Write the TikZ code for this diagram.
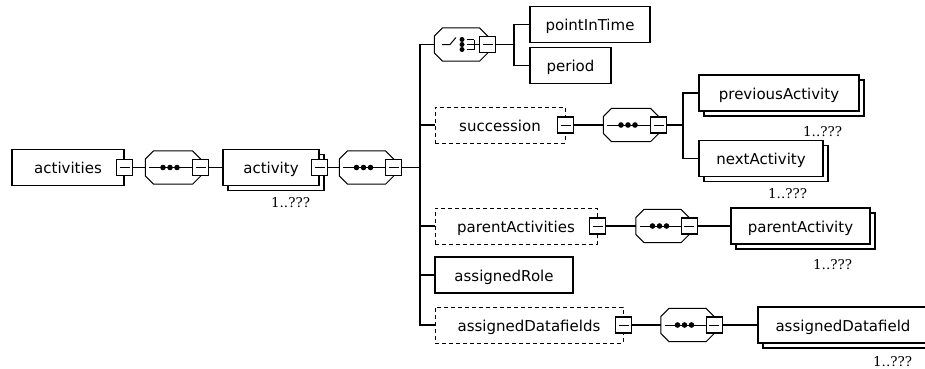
\documentclass[tikz,border=0pt]{standalone}
\usepackage{fontspec}
\setmainfont{DejaVu Sans}
\newfontfamily\cardfont{DejaVu Serif}
\usepackage{tikz}
\usetikzlibrary{
	calc,
	positioning,
	shadows,
}
\tikzset{
	elem node/.style={
		draw,
		rectangle,
		inner sep=0mm,
		minimum height=36,
		line width=1.2pt,
		text height=12,
		text depth=0,
		font=\fontsize{15}{18}\selectfont,
	},
	opt node/.style={
		elem node,
		dash pattern=on 4pt off 3pt,
		line width=1pt,
	},
	rep node/.style={
		elem node,
		fill=white,
		copy shadow={shadow xshift=5pt, shadow yshift=-5pt, line width=1.2pt},
	},
	comp node/.style={
		rectangle,
		inner sep=0mm,
		minimum height=32,
	},
	minus node/.style={
		draw,
		rectangle,
		fill=white,
		inner sep=0mm,
		minimum size=16,
		line width=1.2pt,
		path picture={
			\draw[line width=1pt]
			([xshift=3pt]path picture bounding box.west) --
			([xshift=-3pt]path picture bounding box.east);
		},
	},
	card node/.style={
		inner sep=0mm,
		anchor=north east,
		font=\cardfont\fontsize{13.5}{15}\selectfont,
	},
}

\begin{document}
\begin{tikzpicture}[x=1pt, y=-1pt, line width=1.2pt]
\path[use as bounding box, fill=white] (0,0) rectangle (925,368);
\clip (0,0) rectangle (925,368);

% elements
\foreach \n/\x/\y/\w in {
	activities/68/167.5/112
	,pointInTime/590/24.5/120
	,period/570.5/65.5/81
	,assignedRole/504/275/138
}{
	\node[elem node, minimum width=\w] (\n) at (\x,\y) {\n};
}
\foreach \n/\x/\y/\w in {
	succession/500/125/130
	,parentActivities/516/226/162
	,assignedDatafields/529/325/188
}{
	\node[opt node, minimum width=\w] (\n) at (\x,\y) {\n};
}
\foreach \n/\x/\y/\w in {
	activity/271/167.5/96
	,previousActivity/779/93/160
	,nextActivity/761/158.5/124
	,parentActivity/800.5/226/139
	,assignedDatafield/843/325/170
}{
	\node[rep node, minimum width=\w] (\n) at (\x,\y) {\n};
}

% compositors
\foreach \n/\x/\y/\w in {
	s1/173/167.5/54
	,s2/366.5/167.5/53
	,c1/461/44.5/52
	,s3/631/125/54
	,s4/662.5/226/52
	,s5/687.5/325/52
}{
	\node[comp node, minimum width=\w] (\n) at (\x,\y) {};
	\draw[line width=1pt]
	($(\n.north west)+(8,0)$) -- ($(\n.north east)+(-8,0)$) --
	($(\n.north east)+(0,8)$) -- ($(\n.south east)+(0,-8)$) --
	($(\n.south east)+(-8,0)$) -- ($(\n.south west)+(8,0)$) --
	($(\n.south west)+(0,-8)$) -- ($(\n.north west)+(0,8)$) -- cycle;
}

% minus boxes
\foreach \n in {
	activities,activity,succession,parentActivities,assignedDatafields%
	,s1,s2,c1,s3,s4,s5%
}{
	\node[minus node] (\n-m) at (\n.east) {};
}

% sequence marks
\foreach \n in {s1,s2,s3,s4,s5}{
	\draw[line width=1pt] ([xshift=4pt]\n.west) -- (\n-m.west);
	\foreach \d in {-10,-3,4}{
		\fill ($(\n)+(\d,0)$) circle (2.8);
	}
}

% choice mark
\draw[line width=1pt]
($(c1)+(-19,0)$) -- ($(c1)+(-11,0)$) -- ($(c1)+(-5,-7)$);
\foreach \d in {-5,0,5}{
	\fill ($(c1)+(1,\d)$) circle (2.5);
	\draw[line width=1pt] ($(c1)+(6,\d)$) -- ($(c1)+(13,\d)$);
}
\draw[line width=1pt] ($(c1)+(13,-5)$) -- ($(c1)+(13,5)$);
\draw[line width=1pt] ($(c1)+(13,0)$) -- (c1-m.west);

% connectors
\foreach \u \v in {
	activities-m/s1,s1-m/activity,activity-m/s2%
	,succession-m/s3%
	,parentActivities-m/s4,s4-m/parentActivity%
	,assignedDatafields-m/s5,s5-m/assignedDatafield%
}{
	\draw (\u.east) -- (\v.west);
}

\coordinate (bar1) at (420,167.5);
\coordinate (bar2) at (514,44.5);
\coordinate (bar3) at (683,125);
\draw (s2-m.east) -- (bar1);
\draw (c1-m.east) -- (bar2);
\draw (s3-m.east) -- (bar3);
\foreach \b \v in {
	bar1/c1,bar1/succession,bar1/parentActivities,bar1/assignedRole,bar1/assignedDatafields%
	,bar2/pointInTime,bar2/period%
	,bar3/previousActivity,bar3/nextActivity%
}{
	\draw (\b) |- (\v.west);
}

% cardinalities
\foreach \n/\d/\e in {
	activity/9/11
	,previousActivity/17/14
	,nextActivity/16/11
	,parentActivity/18/14
	,assignedDatafield/16/12
}{
	\node[card node] (\n-c) at ($(\n.south east)+(-\d,\e)$) {1..???};
}

\end{tikzpicture}
\end{document}
